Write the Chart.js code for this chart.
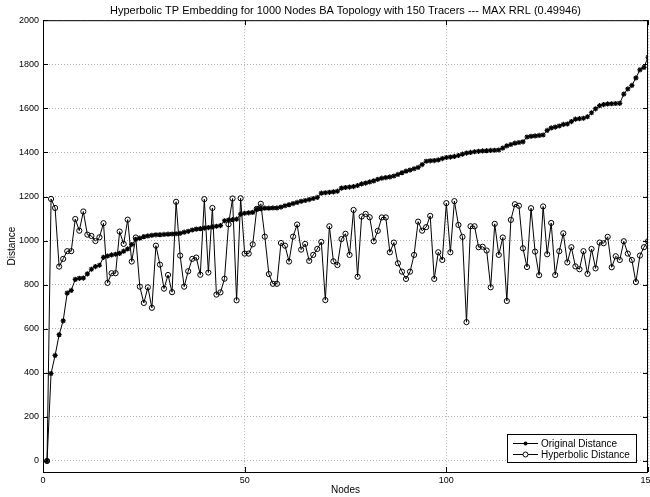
<!DOCTYPE html>
<html lang="en">
<head>
<meta charset="UTF-8">
<title>Hyperbolic TP Embedding</title>
<style>
  html, body { margin: 0; padding: 0; background: #fff; }
  #wrap { width: 650px; height: 497px; position: relative; }
</style>
</head>
<body>
<div id="wrap"><canvas id="chart"></canvas></div>
<script src="https://cdn.jsdelivr.net/npm/chart.js"></script>
<script>
// x categories: node index 1..150
const nodes = Array.from({length: 150}, (_, i) => i + 1);

const originalDistance = [
    0, 397, 479, 573, 636, 762, 774, 824, 829, 830,
  849, 870, 882, 888, 924, 930, 935, 938, 942, 952,
  962, 982, 1006, 1011, 1018, 1021, 1024, 1026, 1027, 1028,
  1029, 1030, 1031, 1033, 1038, 1042, 1048, 1052, 1054, 1057,
  1059, 1062, 1065, 1068, 1090, 1093, 1095, 1097, 1120, 1124,
  1126, 1128, 1142, 1145, 1147, 1147, 1148, 1148, 1152, 1158,
  1163, 1168, 1173, 1178, 1182, 1186, 1191, 1196, 1215, 1217,
  1219, 1221, 1224, 1238, 1241, 1243, 1245, 1250, 1257, 1261,
  1266, 1271, 1278, 1283, 1286, 1289, 1293, 1300, 1308, 1315,
  1320, 1326, 1332, 1345, 1360, 1362, 1363, 1366, 1372, 1377,
  1379, 1382, 1386, 1392, 1397, 1400, 1403, 1405, 1407, 1408,
  1409, 1410, 1411, 1420, 1430, 1436, 1442, 1445, 1448, 1470,
  1473, 1475, 1477, 1479, 1500, 1511, 1515, 1520, 1527, 1529,
  1540, 1551, 1553, 1555, 1562, 1580, 1598, 1612, 1617, 1620,
  1621, 1622, 1623, 1665, 1688, 1704, 1738, 1775, 1786, 1832
];

const hyperbolicDistance = [
    0, 1189, 1148, 882, 917, 952, 952, 1098, 1045, 1132,
  1027, 1021, 998, 1015, 1079, 808, 852, 852, 1041, 985,
  1095, 905, 1014, 791, 717, 788, 695, 977, 891, 782,
  844, 766, 1176, 932, 791, 861, 917, 923, 845, 1188,
  855, 1148, 755, 765, 827, 1074, 1191, 729, 1192, 941,
  941, 983, 1144, 1167, 1018, 848, 804, 804, 989, 977,
  905, 1018, 1073, 959, 985, 908, 935, 962, 994, 730,
  1065, 906, 889, 1007, 1031, 935, 1139, 836, 1109, 1121,
  1106, 997, 1044, 1105, 1105, 947, 991, 897, 859, 826,
  859, 935, 1086, 1045, 1061, 1112, 826, 947, 912, 1170,
  947, 1179, 1071, 1017, 630, 1065, 1065, 970, 972, 955,
  788, 1076, 935, 1014, 726, 1094, 1165, 1158, 965, 880,
  1147, 950, 843, 1155, 938, 1080, 844, 952, 1033, 901,
  970, 883, 870, 952, 849, 962, 874, 991, 988, 1017,
  879, 929, 912, 997, 941, 912, 812, 932, 970, 997
];

const xTicks = [0, 50, 100, 150];
const yTicks = [0, 200, 400, 600, 800, 1000, 1200, 1400, 1600, 1800, 2000];

const FONT = "'Liberation Sans', Arial, Helvetica, sans-serif";
const titleText = 'Hyperbolic TP Embedding for 1000 Nodes BA Topology with 150 Tracers --- MAX RRL (0.49946)';

// MATLAB style box with inward ticks plus legend in the lower right corner
const matlabFrame = {
  id: 'matlabFrame',
  afterDatasetsDraw(chart) {
    const {ctx, chartArea: a, scales: {x, y}} = chart;
    ctx.save();
    ctx.strokeStyle = '#000';
    ctx.lineWidth = 1;
    ctx.strokeRect(a.left + 0.5, a.top + 0.5, a.right - a.left - 1, a.bottom - a.top);
    ctx.beginPath();
    xTicks.forEach(v => {
      const px = Math.round(x.getPixelForValue(v)) + 0.5;
      ctx.moveTo(px, a.bottom); ctx.lineTo(px, a.bottom - 5);
      ctx.moveTo(px, a.top); ctx.lineTo(px, a.top + 5);
    });
    yTicks.forEach(v => {
      const py = Math.round(y.getPixelForValue(v)) + 0.5;
      ctx.moveTo(a.left, py); ctx.lineTo(a.left + 5, py);
      ctx.moveTo(a.right, py); ctx.lineTo(a.right - 5, py);
    });
    ctx.stroke();

    // legend
    const w = 129, h = 28;
    const lx = a.right - 12 - w, ly = a.bottom - 10 - h;
    ctx.fillStyle = '#fff';
    ctx.fillRect(lx, ly, w, h);
    ctx.strokeRect(lx + 0.5, ly + 0.5, w, h);
    const rows = [
      {label: 'Original Distance', y: ly + 9.5, dot: true},
      {label: 'Hyperbolic Distance', y: ly + 20.5, dot: false}
    ];
    ctx.font = '10px ' + FONT;
    ctx.textBaseline = 'middle';
    rows.forEach(r => {
      ctx.beginPath();
      ctx.moveTo(lx + 6, r.y); ctx.lineTo(lx + 31, r.y);
      ctx.stroke();
      ctx.beginPath();
      if (r.dot) {
        ctx.fillStyle = '#000';
        ctx.arc(lx + 18.5, r.y, 2, 0, Math.PI * 2);
        ctx.fill();
      } else {
        ctx.arc(lx + 18.5, r.y, 2.5, 0, Math.PI * 2);
        ctx.fillStyle = '#fff';
        ctx.fill();
        ctx.stroke();
      }
      ctx.fillStyle = '#000';
      ctx.fillText(r.label, lx + 34, r.y + 0.5);
    });
    ctx.restore();
  }
};

new Chart(document.getElementById('chart'), {
  type: 'line',
  data: {
    labels: nodes,
    datasets: [
      {
        label: 'Hyperbolic Distance',
        data: hyperbolicDistance,
        borderColor: '#000',
        borderWidth: 1,
        pointStyle: 'circle',
        pointRadius: 2.6,
        pointBorderWidth: 1,
        pointBorderColor: '#000',
        pointBackgroundColor: 'rgba(0,0,0,0)',
        tension: 0,
        order: 0
      },
      {
        label: 'Original Distance',
        data: originalDistance,
        borderColor: '#000',
        borderWidth: 1,
        pointStyle: 'star',
        pointRadius: 2.6,
        pointBorderWidth: 1.2,
        pointBorderColor: '#000',
        pointBackgroundColor: '#000',
        tension: 0,
        order: 1
      }
    ]
  },
  options: {
    responsive: true,
    maintainAspectRatio: false,
    animation: false,
    devicePixelRatio: 1,
    layout: { padding: { top: 0, right: 2, bottom: 0, left: 0 }, autoPadding: false },
    plugins: {
      legend: { display: false },
      tooltip: { enabled: false },
      title: {
        display: true,
        text: titleText,
        fullSize: false,
        color: '#000',
        font: { family: FONT, size: 11, weight: 'normal' },
        padding: { top: 4, bottom: 3 }
      }
    },
    scales: {
      x: {
        type: 'linear',
        min: 0,
        max: 150,
        afterBuildTicks: s => { s.ticks = xTicks.map(v => ({ value: v })); },
        afterFit: s => { s.height = 25; s.paddingLeft = 0; s.paddingRight = 0; },
        grid: { color: '#b0b0b0', lineWidth: 1, drawTicks: false },
        border: { display: false, dash: [1, 2] },
        ticks: { color: '#000', font: { family: FONT, size: 9 }, padding: 3, maxRotation: 0, autoSkip: false, callback: v => String(v) },
        title: { display: true, text: 'Nodes', color: '#000', font: { family: FONT, size: 10 }, padding: { top: 0, bottom: 1 } }
      },
      y: {
        min: -50,
        max: 2000,
        afterBuildTicks: s => { s.ticks = yTicks.map(v => ({ value: v })); },
        afterFit: s => { s.width = 43; s.paddingTop = 0; s.paddingBottom = 0; },
        grid: { color: '#b0b0b0', lineWidth: 1, drawTicks: false },
        border: { display: false, dash: [1, 2] },
        ticks: { color: '#000', font: { family: FONT, size: 9 }, padding: 4, autoSkip: false, callback: v => String(v) },
        title: { display: true, text: 'Distance', color: '#000', font: { family: FONT, size: 10 }, padding: { top: 6, bottom: 0 } }
      }
    }
  },
  plugins: [matlabFrame]
});
</script>
</body>
</html>
